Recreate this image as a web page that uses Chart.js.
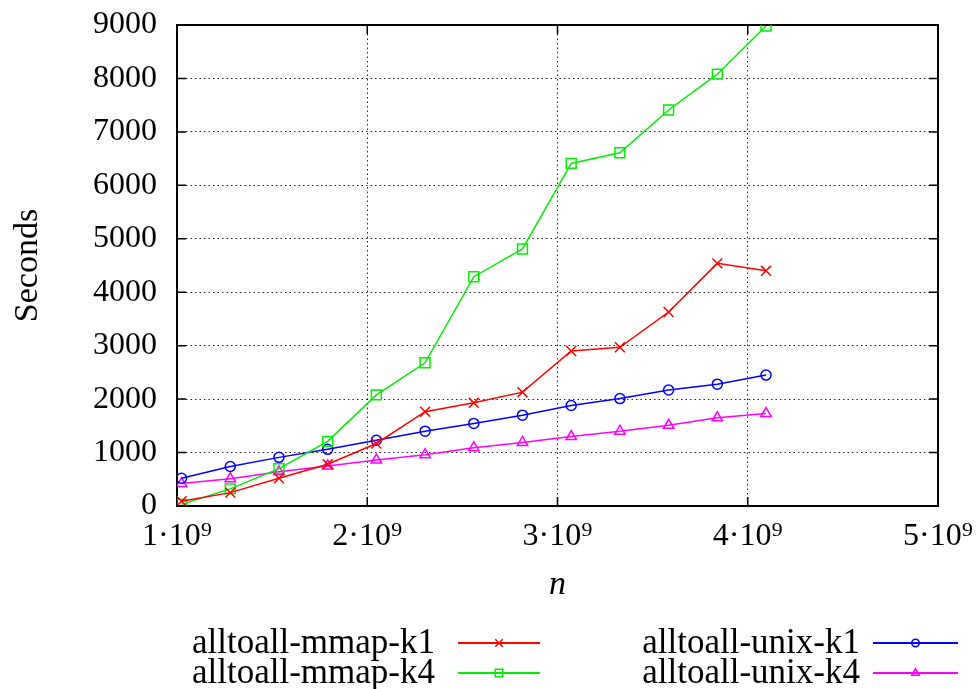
<!DOCTYPE html>
<html>
<head>
<meta charset="utf-8">
<script src="https://cdn.jsdelivr.net/npm/chart.js@4/dist/chart.umd.min.js"></script>
<style>
  html, body { margin: 0; padding: 0; background: #fff; }
  #c { display: block; }
</style>
</head>
<body>
<canvas id="c" width="976" height="689"></canvas>
<script>
// ---- data ----
const xValues = [1.024e9, 1.28e9, 1.536e9, 1.792e9, 2.048e9, 2.304e9, 2.56e9, 2.816e9, 3.072e9, 3.328e9, 3.584e9, 3.84e9, 4.096e9];
const mmapK1 = [90, 250, 520, 780, 1170, 1765, 1930, 2130, 2900, 2970, 3630, 4540, 4400];
const mmapK4 = [30, 320, 700, 1210, 2080, 2680, 4290, 4810, 6410, 6610, 7410, 8080, 8980];
const unixK1 = [520, 740, 910, 1060, 1230, 1400, 1545, 1700, 1880, 2010, 2170, 2280, 2450];
const unixK4 = [420, 510, 640, 750, 860, 960, 1090, 1190, 1300, 1400, 1510, 1650, 1730];
const seriesLabels = ['alltoall-mmap-k1', 'alltoall-mmap-k4', 'alltoall-unix-k1', 'alltoall-unix-k4'];
const xTickValues = [1e9, 2e9, 3e9, 4e9, 5e9];
const xTickLabels = ['1·10⁹', '2·10⁹', '3·10⁹', '4·10⁹', '5·10⁹'];
const yTickStep = 1000;

const FONT = "'Liberation Serif', 'DejaVu Serif', serif";

function pts(ys) { return xValues.map((x, i) => ({ x: x, y: ys[i] })); }

const styles = [
  { color: '#ff0000', pointStyle: 'crossRot', radius: 7 },
  { color: '#00ee00', pointStyle: 'rect', radius: 7 },
  { color: '#0000ff', pointStyle: 'circle', radius: 5 },
  { color: '#ff00ff', pointStyle: 'triangle', radius: 6 }
];
const series = [mmapK1, mmapK4, unixK1, unixK4];

const datasets = series.map((s, i) => ({
  label: seriesLabels[i],
  data: pts(s),
  borderColor: styles[i].color,
  backgroundColor: 'rgba(0,0,0,0)',
  borderWidth: 1.5,
  pointStyle: styles[i].pointStyle,
  pointRadius: styles[i].radius,
  pointHoverRadius: styles[i].radius,
  pointBorderColor: styles[i].color,
  pointBackgroundColor: 'rgba(0,0,0,0)',
  pointBorderWidth: 1.5,
  tension: 0,
  fill: false
}));

// frame + inward tick marks (gnuplot style)
const framePlugin = {
  id: 'frame',
  beforeDatasetsDraw(chart) {
    const { ctx, chartArea: a, scales } = chart;
    ctx.save();
    ctx.strokeStyle = '#000';
    ctx.lineWidth = 1.5;
    const tl = 9;
    ctx.beginPath();
    scales.y.ticks.forEach(t => {
      const p = scales.y.getPixelForValue(t.value);
      ctx.moveTo(a.left, p); ctx.lineTo(a.left + tl, p);
      ctx.moveTo(a.right, p); ctx.lineTo(a.right - tl, p);
    });
    scales.x.ticks.forEach(t => {
      const p = scales.x.getPixelForValue(t.value);
      ctx.moveTo(p, a.bottom); ctx.lineTo(p, a.bottom - tl);
      ctx.moveTo(p, a.top); ctx.lineTo(p, a.top + tl);
    });
    ctx.stroke();
    ctx.lineWidth = 2;
    ctx.strokeRect(a.left, a.top, a.right - a.left, a.bottom - a.top);
    ctx.restore();
  }
};

// legend: text right-aligned, then line sample with marker (two columns)
const legendPlugin = {
  id: 'gpLegend',
  afterDraw(chart) {
    const ctx = chart.ctx;
    const cols = [{ textRight: 435, lineL: 458, lineR: 540 }, { textRight: 860, lineL: 873, lineR: 958 }];
    const rows = [643, 673];
    ctx.save();
    ctx.font = '35px ' + FONT;
    ctx.textAlign = 'right';
    ctx.textBaseline = 'middle';
    chart.data.datasets.forEach((ds, i) => {
      const c = cols[Math.floor(i / 2)];
      const y = rows[i % 2];
      ctx.fillStyle = '#000';
      ctx.fillText(ds.label, c.textRight, y + 1);
      ctx.strokeStyle = ds.borderColor;
      ctx.lineWidth = 2;
      ctx.beginPath();
      ctx.moveTo(c.lineL, y); ctx.lineTo(c.lineR, y);
      ctx.stroke();
      ctx.fillStyle = 'rgba(0,0,0,0)';
      ctx.strokeStyle = ds.borderColor;
      ctx.lineWidth = 1.5;
      Chart.helpers.drawPoint(ctx, {
        pointStyle: ds.pointStyle,
        radius: ds.pointRadius * 0.75,
        rotation: 0,
        borderWidth: 1.5
      }, (c.lineL + c.lineR) / 2, y);
    });
    ctx.restore();
  }
};

function noPad(scale) {
  scale.paddingTop = 0; scale.paddingBottom = 0;
  scale.paddingLeft = 0; scale.paddingRight = 0;
}

new Chart(document.getElementById('c'), {
  type: 'line',
  data: { datasets: datasets },
  plugins: [framePlugin, legendPlugin],
  options: {
    responsive: false,
    animation: false,
    events: [],
    layout: { padding: { left: 0, right: 38, top: 25, bottom: 83 } },
    plugins: { legend: { display: false }, tooltip: { enabled: false } },
    scales: {
      x: {
        type: 'linear',
        min: xTickValues[0],
        max: xTickValues[xTickValues.length - 1],
        afterBuildTicks(scale) { scale.ticks = xTickValues.map(v => ({ value: v })); },
        afterFit(scale) { scale.height = 100; noPad(scale); },
        ticks: {
          padding: 11,
          color: '#000',
          font: { family: FONT, size: 32 },
          maxRotation: 0,
          autoSkip: false,
          callback(v) { const i = xTickValues.indexOf(v); return i >= 0 ? xTickLabels[i] : ''; }
        },
        grid: { color: 'rgba(0,0,0,0.85)', lineWidth: 1, drawTicks: false },
        border: { display: false, dash: [1.5, 3] },
        title: {
          display: true, text: 'n', color: '#000',
          font: { family: FONT, size: 34, style: 'italic', lineHeight: 1 },
          padding: { top: 0, bottom: 4 }
        }
      },
      y: {
        min: 0, max: 9000,
        afterFit(scale) { scale.width = 177; noPad(scale); },
        ticks: {
          stepSize: yTickStep,
          padding: 20,
          color: '#000',
          font: { family: FONT, size: 32 },
          callback(v) { return String(v); }
        },
        grid: { color: 'rgba(0,0,0,0.85)', lineWidth: 1, drawTicks: false },
        border: { display: false, dash: [1.5, 3] },
        title: {
          display: true, text: 'Seconds', color: '#000',
          font: { family: FONT, size: 34, lineHeight: 1 },
          padding: { top: 11, bottom: 0 }
        }
      }
    }
  }
});
</script>
</body>
</html>
